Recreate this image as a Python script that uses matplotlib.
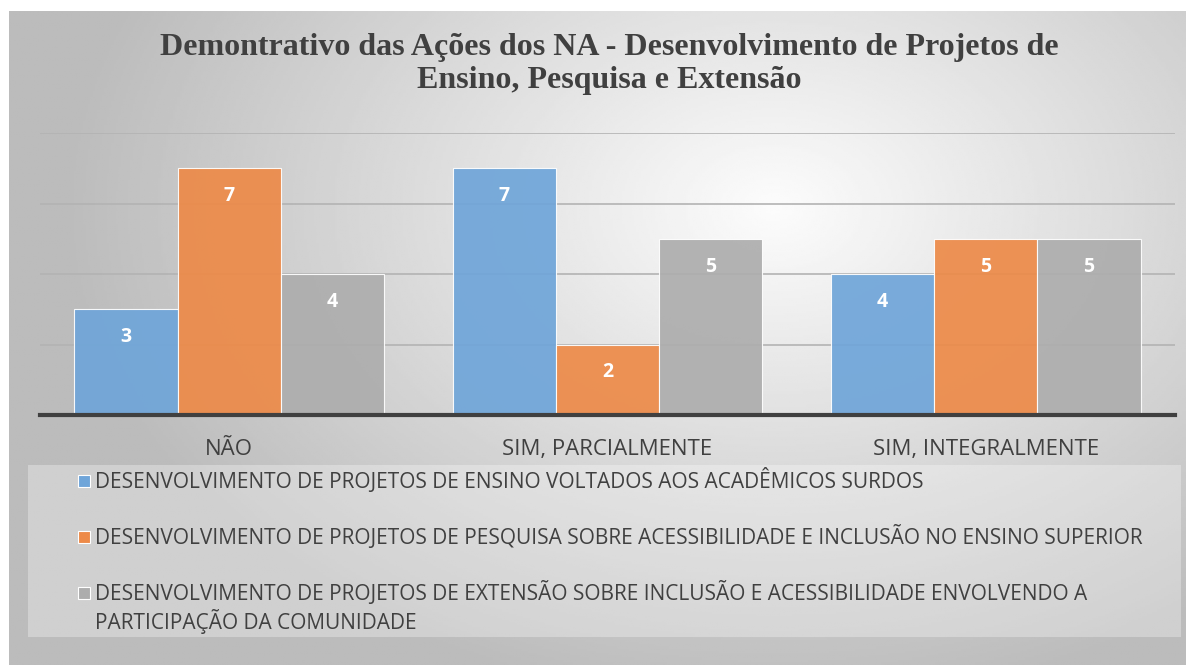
import numpy as np
import matplotlib
matplotlib.use("Agg")
import matplotlib.pyplot as plt
from matplotlib.patches import Rectangle

# data
categories = ["NÃO", "SIM, PARCIALMENTE", "SIM, INTEGRALMENTE"]
series_names = [
    "DESENVOLVIMENTO DE PROJETOS DE ENSINO VOLTADOS AOS ACADÊMICOS SURDOS",
    "DESENVOLVIMENTO DE PROJETOS DE PESQUISA SOBRE ACESSIBILIDADE E INCLUSÃO NO ENSINO SUPERIOR",
    "DESENVOLVIMENTO DE PROJETOS DE EXTENSÃO SOBRE INCLUSÃO E ACESSIBILIDADE ENVOLVENDO A\nPARTICIPAÇÃO DA COMUNIDADE",
]
ensino = [3, 7, 4]
pesquisa = [7, 2, 5]
extensao = [4, 5, 5]
title = "Demontrativo das Ações dos NA - Desenvolvimento de Projetos de\nEnsino, Pesquisa e Extensão"

colors = ["#6fa5d9", "#ed8a48", "#adadad"]
text_gray = "#404040"
sans = ["Open Sans", "DejaVu Sans"]

W, H = 1186, 665
fig = plt.figure(figsize=(W / 100, H / 100), dpi=100)
fig.patch.set_facecolor("white")

# background frame with radial gradient
bg = fig.add_axes([9 / W, 0, 1 - 9 / W, 1 - 11 / H])
yy, xx = np.mgrid[0:1:300j, 0:1:500j]
d = np.sqrt(((xx - 0.65) / 0.75) ** 2 + ((yy - 0.3) / 0.95) ** 2)
shade = np.clip(252 - 80 * d, 188, 252) / 255.0
bg.imshow(shade, cmap="gray", vmin=0, vmax=1, aspect="auto", extent=[0, 1, 1, 0])
bg.set_axis_off()

# legend panel
fig.patches.append(Rectangle((28 / W, 1 - 637 / H), (1181 - 28) / W, (637 - 465) / H,
                             transform=fig.transFigure, facecolor="white", alpha=0.3,
                             edgecolor="none", zorder=1))

ax = fig.add_axes([40 / W, 1 - 415 / H, (1175 - 40) / W, (415 - 133) / H])
ax.set_facecolor("none")

x = np.arange(len(categories))
width = 0.273
all_series = [ensino, pesquisa, extensao]
for i, vals in enumerate(all_series):
    bars = ax.bar(x + (i - 1) * width, vals, width, color=colors[i], alpha=0.92,
                  edgecolor="white", linewidth=0.8, label=series_names[i], zorder=3)
    for b, v in zip(bars, vals):
        ax.annotate(str(v), (b.get_x() + b.get_width() / 2, v), xytext=(0, -20),
                    textcoords="offset points", ha="center", va="center",
                    color="white", fontsize=14, fontweight="bold", family=sans, zorder=4)

ax.set_xlim(-0.5, 2.5)
ax.set_ylim(0, 8)
ax.set_yticks([2, 4, 6, 8])
ax.yaxis.grid(True, color="#b3b3b3", linewidth=1.2, zorder=0)
ax.tick_params(axis="y", left=False, labelleft=False)
ax.tick_params(axis="x", bottom=False, pad=14)
ax.set_xticks(x)
ax.set_xticklabels(categories, fontsize=16, color=text_gray, family=sans)
for s in ["top", "left", "right"]:
    ax.spines[s].set_visible(False)
ax.spines["bottom"].set_color(text_gray)
ax.spines["bottom"].set_linewidth(3)
ax.spines["bottom"].set_zorder(5)

fig.text(609 / W, 1 - 64 / H, title, ha="center", va="center", fontsize=23,
         fontweight="bold", color=text_gray, family="Liberation Serif", linespacing=1.15)

# legend, drawn by hand so the marker sits on the first line of each entry
row_y = [481, 537, 593]
line_h = 29
for i, name in enumerate(series_names):
    y0 = row_y[i]
    fig.patches.append(Rectangle((78 / W, 1 - (y0 + 6) / H), 12 / W, 12 / H,
                                 transform=fig.transFigure, facecolor=colors[i],
                                 edgecolor="white", linewidth=0.8, zorder=3))
    for j, line in enumerate(name.split("\n")):
        fig.text(95 / W, 1 - (y0 + j * line_h) / H, line, ha="left", va="center",
                 fontsize=15, color=text_gray, family=sans)

fig.savefig("out.png", dpi=100)
